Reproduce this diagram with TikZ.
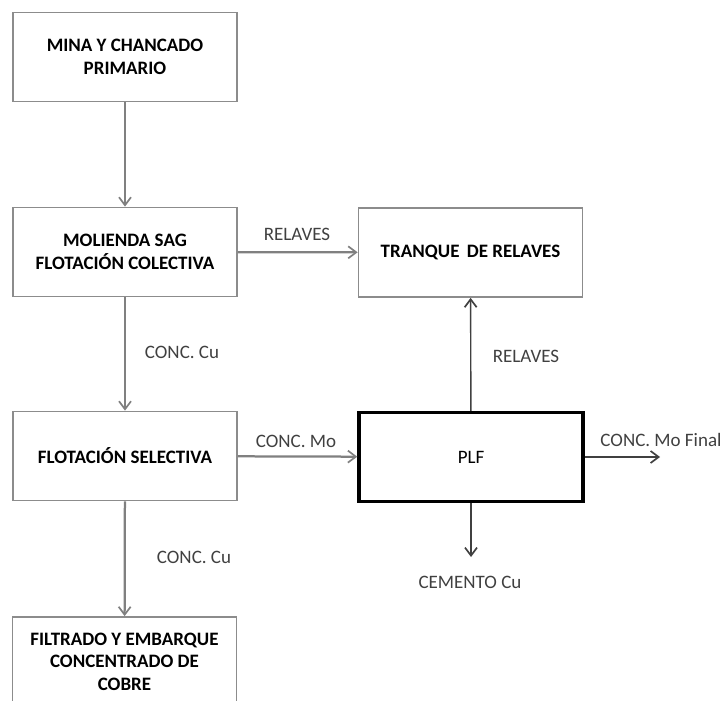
\documentclass[tikz,border=0pt]{standalone}
\usepackage{fontspec}
\setmainfont{Carlito}
\usetikzlibrary{arrows.meta}
\tikzset{
  stage/.style={draw=black!45, line width=1.2pt, minimum width=5.6cm, minimum height=2.225cm,
    align=center, font=\fontsize{13.5}{16}\selectfont\bfseries, inner sep=0pt},
  plantbox/.style={stage, draw=black, line width=2.4pt},
  flow/.style={draw=black!50, line width=1.6pt, -{Straight Barb[length=2mm, width=3mm, line width=1.2pt]}},
  thinflow/.style={flow, draw=black!75, line width=1pt},
  tag/.style={font=\fontsize{13.5}{15}\selectfont, text=black!75, inner sep=0pt}
}
\begin{document}
\begin{tikzpicture}[x=0.025cm, y=-0.025cm]
			%%%%% START %%%%%
			\useasboundingbox (0, 0) rectangle (723, 701);
			\clip (0, 0) rectangle (723, 701);
			
			\node[stage] (mina) at (125, 57) {MINA Y CHANCADO\\PRIMARIO};
			\node[stage] (molienda) at (125, 252) {MOLIENDA SAG\\FLOTACIÓN COLECTIVA};
			\node[stage] (tranque) at (470.5, 252.5) {TRANQUE\, DE RELAVES};
			\node[stage] (selectiva) at (125, 456) {FLOTACIÓN SELECTIVA};
			\node[plantbox] (plf) at (471, 457) {\mdseries PLF};
			\node[stage] (filtrado) at (124.5, 661.5) {FILTRADO Y EMBARQUE\\CONCENTRADO DE\\COBRE};
			
			\coordinate (moFinal) at (660, 457);
			\coordinate (cemento) at (471, 557);
			
			\draw[flow] (mina) -- (molienda);
			\draw[flow] (molienda) -- (tranque);
			\draw[flow] (molienda) -- (selectiva);
			\draw[flow] (selectiva) -- (plf);
			\draw[flow] (selectiva) -- (filtrado);
			\draw[thinflow] (plf) -- (tranque);
			\draw[thinflow] (plf.east) -- (moFinal);
			\draw[thinflow] (plf) -- (cemento);
			
			\node[tag] (tagRelA) at (297, 234) {RELAVES};
			\node[tag] (tagCuA) at (182, 352) {CONC. Cu};
			\node[tag] (tagMo) at (296, 441) {CONC. Mo};
			\node[tag] (tagRelB) at (526, 356) {RELAVES};
			\node[tag] (tagMoF) at (661, 440) {CONC. Mo Final};
			\node[tag] (tagCem) at (470, 582) {CEMENTO Cu};
			\node[tag] (tagCuB) at (194, 557) {CONC. Cu};
			
			%%%%% END %%%%%
\end{tikzpicture}
\end{document}
